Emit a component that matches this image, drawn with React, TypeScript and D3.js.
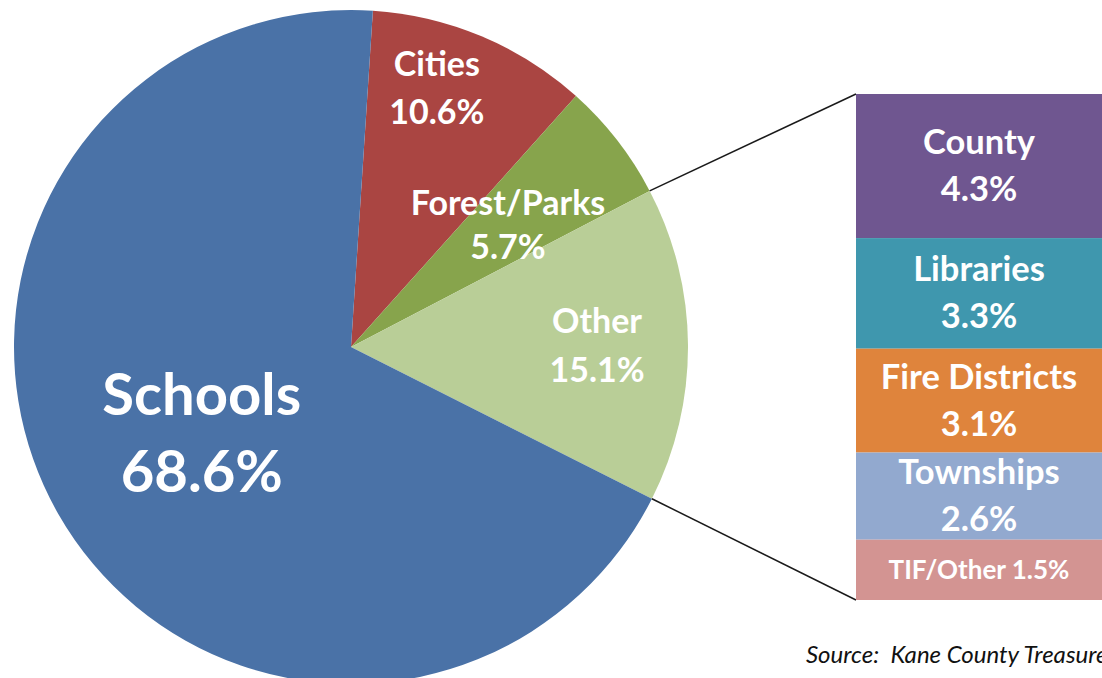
import React from "react";
import * as d3 from "d3";

// ---- Data ----
const pieCategories = ["Cities", "Forest/Parks", "Other", "Schools"];
const pieValues = [10.6, 5.7, 15.1, 68.6];
const pieColors = ["#aa4542", "#87a44c", "#b9ce97", "#4a72a7"];

const barCategories = ["County", "Libraries", "Fire Districts", "Townships", "TIF/Other"];
const barValues = [4.3, 3.3, 3.1, 2.6, 1.5];
const barColors = ["#6f5690", "#3f97ae", "#df843c", "#92a9cf", "#d39492"];

const sourceText = "Source:  Kane County Treasurer";

const W = 1102;
const H = 678;
const FONT = "Lato, 'Open Sans', sans-serif";

export default function App() {
  const cx = 351;
  const cy = 347;
  const R = 337;
  const start = 0.065;

  const pie = d3
    .pie<number>()
    .sort(null)
    .value((d) => d)
    .startAngle(start)
    .endAngle(start + 2 * Math.PI);
  const arcs = pie(pieValues);
  const arcGen = d3.arc<d3.PieArcDatum<number>>().innerRadius(0).outerRadius(R);

  // label placement (radial fraction + angle nudge per slice)
  const labelFrac = [0.81, 0.59, 0.73, 0.51];
  const labelShift = [-0.078, 0, 0, 0];
  const labelSize = [34, 34, 34, 58];
  const labelGap = [48, 44, 49, 77];

  const otherIdx = 2;
  const otherArc = arcs[otherIdx];
  const pt = (a: number) => [cx + R * Math.sin(a), cy - R * Math.cos(a)];
  const [ox1, oy1] = pt(otherArc.startAngle);
  const [ox2, oy2] = pt(otherArc.endAngle);

  // bar stack: scale spans the "Other" slice total; last segment absorbs remainder
  const barX0 = 856;
  const barX1 = W;
  const y = d3.scaleLinear().domain([0, pieValues[otherIdx]]).range([94, 600]);
  const cum = d3.cumsum(barValues);
  const segs = barValues.map((v, i) => {
    const s = i === 0 ? 0 : cum[i - 1];
    const e = i === barValues.length - 1 ? pieValues[otherIdx] : cum[i];
    return { y0: y(s), y1: y(e) };
  });

  return (
    <svg
      width={W}
      height={H}
      style={{ position: "fixed", left: 0, top: 0, background: "#fff" }}
    >
      <g>
        {arcs.map((a, i) => (
          <path
            key={i}
            d={arcGen(a) || ""}
            transform={`translate(${cx},${cy})`}
            fill={pieColors[i]}
          />
        ))}
      </g>
      {arcs.map((a, i) => {
        const mid = (a.startAngle + a.endAngle) / 2 + labelShift[i];
        const r = R * labelFrac[i];
        const lx = cx + r * Math.sin(mid);
        const ly = cy - r * Math.cos(mid);
        const fs = labelSize[i];
        const gap = labelGap[i];
        const cap = fs * 0.36;
        return (
          <text
            key={i}
            x={lx}
            textAnchor="middle"
            fill="#fff"
            fontFamily={FONT}
            fontWeight={700}
            fontSize={fs}
          >
            <tspan x={lx} y={ly - gap / 2 + cap}>
              {pieCategories[i]}
            </tspan>
            <tspan x={lx} y={ly + gap / 2 + cap}>
              {pieValues[i].toFixed(1) + "%"}
            </tspan>
          </text>
        );
      })}

      {/* connector lines */}
      <line x1={ox1} y1={oy1} x2={barX0} y2={segs[0].y0} stroke="#1a1a1a" strokeWidth={1.5} />
      <line
        x1={ox2}
        y1={oy2}
        x2={barX0}
        y2={segs[segs.length - 1].y1}
        stroke="#1a1a1a"
        strokeWidth={1.5}
      />

      {/* bar segments */}
      {segs.map((s, i) => (
        <rect
          key={i}
          x={barX0}
          y={s.y0}
          width={barX1 - barX0}
          height={s.y1 - s.y0}
          fill={barColors[i]}
        />
      ))}
      {segs.map((s, i) => {
        const mx = (barX0 + barX1) / 2;
        const my = (s.y0 + s.y1) / 2;
        const label = barValues[i].toFixed(1) + "%";
        if (i === barValues.length - 1) {
          return (
            <text
              key={i}
              x={mx}
              y={my + 9}
              textAnchor="middle"
              fill="#fff"
              fontFamily={FONT}
              fontWeight={700}
              fontSize={26}
            >
              {barCategories[i] + " " + label}
            </text>
          );
        }
        return (
          <text
            key={i}
            textAnchor="middle"
            fill="#fff"
            fontFamily={FONT}
            fontWeight={700}
            fontSize={34.5}
          >
            <tspan x={mx} y={my - 12}>
              {barCategories[i]}
            </tspan>
            <tspan x={mx} y={my + 35}>
              {label}
            </tspan>
          </text>
        );
      })}

      <text
        x={806}
        y={663}
        fontFamily={FONT}
        fontStyle="italic"
        fontSize={24}
        fill="#111"
        style={{ whiteSpace: "pre" }}
      >
        {sourceText}
      </text>
    </svg>
  );
}
